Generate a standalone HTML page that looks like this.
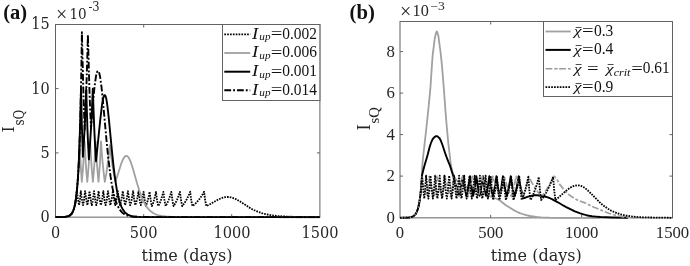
<!DOCTYPE html>
<html lang="en"><head><meta charset="utf-8"><title>Figure</title>
<style>
html,body{margin:0;padding:0;background:#fff}
svg{display:block}
text{font-family:"DejaVu Serif Condensed","DejaVu Serif","Liberation Serif",serif}
.cm{font-family:"Liberation Serif",serif}
.it{font-style:italic}
.bd{font-weight:bold;font-family:"Liberation Serif",serif}
</style></head><body>
<svg width="690" height="266" viewBox="0 0 690 266">
<rect width="690" height="266" fill="#fff"/>

<g id="panelA">
<rect x="55.5" y="24.5" width="264.4" height="192.65" fill="none" stroke="#626262" stroke-width="1"/><path d="M143.7,217.15v-3M143.7,24.5v3M231.7,217.15v-3M231.7,24.5v3M55.5,152.9h3M319.9,152.9h-3M55.5,88.6h3M319.9,88.6h-3" stroke="#626262" stroke-width="1" fill="none"/>
<clipPath id="ca"><rect x="54.5" y="23.5" width="266.4" height="194.85"/></clipPath>
<g clip-path="url(#ca)" fill="none" stroke-linejoin="round">
<path d="M55.5,217.1 62.9,217 65,216.9 66.7,216.6 68.1,216.3 69.4,215.7 70.4,215 71.4,214 72.3,212.6 73.2,210.9 73.9,208.8 74.6,206.2 75.3,203.1 75.8,199.5 76.9,191.1 77.9,198.9 78.5,202.2 79.1,205.2 80,198.9 80.8,191.1 81.8,198.9 82.4,202.2 83.1,205.2 84.2,198.9 85.1,191.1 86.2,198.9 86.7,202.2 87.4,205.2 88.5,198.9 89.5,191.1 90.6,198.9 91.1,202.2 91.8,205.2 92.5,202.2 93,198.9 94,191.1 95.1,198.9 95.6,202.2 96.3,205.2 97,202.2 97.5,198.9 98.6,191.1 99.6,198.9 100.2,202.2 100.9,205.2 101.6,202.2 102.2,198.9 103.3,191.1 104.3,198.9 104.9,202.2 105.6,205.2 106.3,202.2 106.9,198.9 108,191.1 109.1,198.9 109.7,202.2 110.3,205.2 111.1,202.2 111.7,198.9 112.9,191.1 113.9,198.9 114.5,202.2 115.2,205.2 115.9,202.2 116.6,198.9 117.8,191.1 118.9,198.9 119.4,202.2 120.1,205.2 120.9,202.2 121.6,198.9 122.8,191.1 123.9,198.9 124.5,202.2 125.1,205.2 125.9,202.2 126.7,198.9 127.9,191.1 129,198.9 129.6,202.2 130.2,205.2 131.1,202.2 131.8,198.9 133.1,191.1 134.1,198.9 134.7,202.2 135.3,205.2 136.3,202.2 137.1,198.9 137.9,195 138.5,191.1 139.6,198.9 140.1,202.2 140.8,205.2 141.6,202.3 142.3,199.2 143.6,191.8 144.7,199.8 145.3,203.1 145.9,206.1 147,203.1 147.9,199.8 148.9,195.9 149.6,191.8 150.7,199.8 151.2,203.1 151.9,206.1 153.1,203.1 154.1,199.8 155.1,195.9 156,191.8 157,199.8 157.6,203.1 158.3,206.1 159.8,203.1 161,199.8 162.3,195.9 163.4,191.8 164.4,199.8 165,203.1 165.7,206.1 167.3,203.1 168.7,199.8 170.1,195.9 171.3,191.8 172.4,199.8 172.9,203.1 173.6,206.1 175.4,203.1 177,199.8 178.6,195.9 179.9,191.8 181,199.8 181.6,203.1 182.2,206.1 184.5,203.1 186.5,199.8 188.5,195.9 190.2,191.8 191.2,199.8 191.8,203.1 192.5,206.1 194.4,204.5 195.9,203.1 198.8,199.8 200.2,198 201.7,195.9 204.1,191.8 205.1,199.8 205.7,203.1 206.4,206.1 209.3,204.6 216.8,200.3 220.7,198.5 222.9,197.7 225.1,197.2 227.2,197 229.1,197 230.7,197.3 232.5,197.8 234.3,198.4 236.3,199.4 239.7,201.3 249.1,207.4 252,209.1 254.9,210.5 257.7,211.7 260.5,212.7 263.4,213.6 266.5,214.4 270.4,215.1 274.6,215.7 279.3,216.2 284.8,216.5 298.3,217 319.9,217.1" stroke="#000" stroke-width="1.8" stroke-dasharray="1.65 1.1"/>
<path d="M55.5,217.1 61.2,217.1 64.5,216.9 67,216.6 68.8,216 69.6,215.6 70.4,215 71.1,214.4 71.7,213.5 72.9,211.5 73.9,209 74.9,205 75.8,199.9 76.6,193.8 77.3,186.2 78,177.1 78.6,166.6 79.7,140.1 80.6,163.3 81.2,172.8 81.8,181.8 82.6,173 83.3,163.7 84.6,141.4 85.8,163.7 86.5,173 87.3,181.8 88.1,173 88.8,163.7 90.1,141.4 91.4,163.7 92.1,173 92.9,181.8 93.7,173 94.4,163.7 95.6,141.4 96.9,163.7 97.7,173 98.5,181.8 99.2,173 99.9,163.7 101,141.4 101.8,152.5 102.7,163.7 103.7,173 104.8,181.8 106.3,173.7 107.5,165.2 108.8,155.1 109.8,145.2 111,155.1 112.4,165.2 113.8,173.7 115.5,181.8 120.5,165.9 121.6,162.6 122.8,159.8 124,157.7 124.6,156.9 125.1,156.3 125.7,156 126.3,155.9 127.2,156.1 128.1,156.9 129,158.2 129.8,159.9 131,162.8 132.8,168.2 137.1,183.6 139.2,190.2 141.5,196.8 142.7,199.5 144.2,202.6 145.6,205.2 147.1,207.4 148.5,209.2 150,210.7 151.8,212.1 153.5,213.3 155.6,214.3 157.6,215 159.4,215.5 161.4,215.9 165.8,216.5 171.4,216.9 179,217.1 199.1,217.1 319.9,217.1" stroke="#a0a0a0" stroke-width="1.8"/>
<path d="M55.5,217.1 61.9,217.1 65.4,216.8 67.9,216.3 68.9,215.9 69.8,215.4 70.7,214.7 71.5,213.9 72.2,212.9 72.9,211.5 74,208.4 75.1,204.2 76.1,197.9 77,189.3 77.9,178.8 78.6,166.8 79.2,152.8 79.8,134.7 80.4,114.3 81,88.7 81.9,126.3 82.9,156.8 83.9,141.9 84.7,126.3 85.5,107.4 86.2,88.7 87.4,128.1 88.1,144.2 88.9,159.4 90,144.2 91,128.1 92,108.4 92.8,88.7 93.5,109.2 94.3,129.5 95.1,145.9 96,161.3 100.2,120.4 101.8,106.6 102.7,100.5 103.4,97.6 103.7,96.6 104,95.8 104.3,95.3 104.6,95.1 105,95.3 105.3,95.7 105.6,96.4 106.3,98.8 106.9,102.4 107.5,106.9 108.8,118.3 112,151.6 113.6,166.8 115.2,179.5 116.2,185.9 117.1,191.3 118.1,195.9 119.4,200.9 120.3,203.9 121.6,207.1 122.9,209.6 124.5,211.8 126.1,213.4 127.7,214.5 129,215.2 130.3,215.7 131.9,216.1 133.8,216.5 138,216.9 144.4,217.1 319.9,217.2" stroke="#000" stroke-width="1.9"/>
<path d="M55.5,217.1 62.3,217.1 66,216.8 67.4,216.5 68.6,216.1 69.6,215.6 70.5,214.9 71.5,213.9 72.3,212.7 73,211.3 73.7,209.6 74.3,207.6 74.9,205.2 75.9,199.1 77,190 77.9,178.3 78.8,162.9 79.5,145.3 80.2,124.4 80.8,97.4 81.4,66.4 81.9,32.2 83.2,86 83.9,108.5 84.7,129.8 85.6,108.9 86.4,87 87.2,60.7 87.9,34.8 89.3,86.1 90.1,107.8 91,128.5 92,114.4 93,102.3 94.3,88.8 95.3,80.9 96.2,75.2 96.9,72.6 97.2,71.8 97.5,71.2 97.9,70.9 98.2,70.9 98.5,71.3 98.9,71.9 99.5,74.1 100.2,77.4 100.8,81.8 101.5,87 102.8,99.6 106.4,139.1 108,155.5 109.7,169.5 110.6,176.7 111.6,183 112.6,188.4 113.9,194.5 115.2,199.4 116.5,203.2 117.9,206.3 119.5,209.2 121.1,211.4 122.1,212.4 123.1,213.2 124.4,214.1 126,215 127.7,215.6 129.6,216.1 131.9,216.5 134.6,216.7 141.4,217 159.4,217.1 319.9,217.2" stroke="#000" stroke-width="1.9" stroke-dasharray="6.8 2 1.9 2"/>
</g>
<text x="31.3" y="29.3" font-size="16.3" textLength="18.4" lengthAdjust="spacingAndGlyphs" fill="#262626" >15</text>
<text x="31.3" y="93.5" font-size="16.3" textLength="18.4" lengthAdjust="spacingAndGlyphs" fill="#262626" >10</text>
<text x="40.5" y="157.8" font-size="16.3" textLength="9.2" lengthAdjust="spacingAndGlyphs" fill="#262626" >5</text>
<text x="40.5" y="222.0" font-size="16.3" textLength="9.2" lengthAdjust="spacingAndGlyphs" fill="#262626" >0</text>
<text x="50.9" y="237.5" font-size="16.3" textLength="9.2" lengthAdjust="spacingAndGlyphs" fill="#262626" >0</text>
<text x="129.8" y="237.5" font-size="16.3" textLength="27.8" lengthAdjust="spacingAndGlyphs" fill="#262626" >500</text>
<text x="213.4" y="237.5" font-size="16.3" textLength="37.0" lengthAdjust="spacingAndGlyphs" fill="#262626" >1000</text>
<text x="301.5" y="237.5" font-size="16.3" textLength="37.0" lengthAdjust="spacingAndGlyphs" fill="#262626" >1500</text>
<text x="56.0" y="21.1" font-size="20" fill="#262626" class="cm">×</text>
<text x="69.5" y="18.9" font-size="15.5" textLength="17.2" lengthAdjust="spacingAndGlyphs" fill="#262626" >10</text>
<text x="88.4" y="11.0" font-size="12.4" textLength="11.2" lengthAdjust="spacingAndGlyphs" fill="#262626" >-3</text>
<text x="141.6" y="260.7" font-size="16.8" textLength="91" lengthAdjust="spacingAndGlyphs" fill="#262626" >time (days)</text>
<g transform="translate(13.9,132.2) rotate(-90)"><text x="0" y="0" font-size="16.8" fill="#262626">I</text><text x="6.6" y="10.2" font-size="14" fill="#262626" textLength="15.8" lengthAdjust="spacingAndGlyphs">sQ</text></g>
<text x="3.2" y="19" font-size="20.3" textLength="23.9" lengthAdjust="spacingAndGlyphs" fill="#111" class="bd">(a)</text>
<rect x="222.5" y="24.5" width="97.4" height="76" fill="#fff" stroke="#626262" stroke-width="1"/>
<path d="M224.3,34.4H250.2" stroke="#000" stroke-width="1.8" stroke-dasharray="1.7 1.15" fill="none"/>
<text x="252.0" y="38.6" font-size="16" fill="#111" class="cm it" textLength="6.2" lengthAdjust="spacingAndGlyphs">I</text>
<text x="259.3" y="40.3" font-size="11" fill="#111" class="cm it" textLength="11.2" lengthAdjust="spacingAndGlyphs">up</text>
<text x="270.8" y="39.3" font-size="16.5" fill="#111" class="cm" textLength="11.6" lengthAdjust="spacingAndGlyphs">=</text>
<text x="282.2" y="38.6" font-size="15.7" fill="#111" class="cm" textLength="34.7" lengthAdjust="spacingAndGlyphs">0.002</text>
<path d="M224.3,53.0H250.2" stroke="#a0a0a0" stroke-width="1.8" fill="none"/>
<text x="252.0" y="57.2" font-size="16" fill="#111" class="cm it" textLength="6.2" lengthAdjust="spacingAndGlyphs">I</text>
<text x="259.3" y="58.9" font-size="11" fill="#111" class="cm it" textLength="11.2" lengthAdjust="spacingAndGlyphs">up</text>
<text x="270.8" y="57.9" font-size="16.5" fill="#111" class="cm" textLength="11.6" lengthAdjust="spacingAndGlyphs">=</text>
<text x="282.2" y="57.2" font-size="15.7" fill="#111" class="cm" textLength="34.7" lengthAdjust="spacingAndGlyphs">0.006</text>
<path d="M224.3,71.7H250.2" stroke="#000" stroke-width="2.0" fill="none"/>
<text x="252.0" y="75.9" font-size="16" fill="#111" class="cm it" textLength="6.2" lengthAdjust="spacingAndGlyphs">I</text>
<text x="259.3" y="77.6" font-size="11" fill="#111" class="cm it" textLength="11.2" lengthAdjust="spacingAndGlyphs">up</text>
<text x="270.8" y="76.6" font-size="16.5" fill="#111" class="cm" textLength="11.6" lengthAdjust="spacingAndGlyphs">=</text>
<text x="282.2" y="75.9" font-size="15.7" fill="#111" class="cm" textLength="34.7" lengthAdjust="spacingAndGlyphs">0.001</text>
<path d="M224.3,90.3H250.2" stroke="#000" stroke-width="1.9" stroke-dasharray="6.8 2 1.9 2" fill="none"/>
<text x="252.0" y="94.5" font-size="16" fill="#111" class="cm it" textLength="6.2" lengthAdjust="spacingAndGlyphs">I</text>
<text x="259.3" y="96.2" font-size="11" fill="#111" class="cm it" textLength="11.2" lengthAdjust="spacingAndGlyphs">up</text>
<text x="270.8" y="95.2" font-size="16.5" fill="#111" class="cm" textLength="11.6" lengthAdjust="spacingAndGlyphs">=</text>
<text x="282.2" y="94.5" font-size="15.7" fill="#111" class="cm" textLength="34.7" lengthAdjust="spacingAndGlyphs">0.014</text>
</g>
<g id="panelB">
<rect x="400.0" y="21.5" width="272.5" height="196.35" fill="none" stroke="#626262" stroke-width="1"/><path d="M490.7,217.85v-3M490.7,21.5v3M581.7,217.85v-3M581.7,21.5v3M400.0,176.1h3M672.5,176.1h-3M400.0,134.6h3M672.5,134.6h-3M400.0,93.1h3M672.5,93.1h-3M400.0,51.6h3M672.5,51.6h-3" stroke="#626262" stroke-width="1" fill="none"/>
<clipPath id="cb"><rect x="399.0" y="20.5" width="274.5" height="198.54999999999998"/></clipPath>
<g clip-path="url(#cb)" fill="none" stroke-linejoin="round">
<path d="M400,217.8 405.9,217.7 409.3,217.5 410.7,217.3 411.8,216.9 412.9,216.5 413.7,215.9 414.6,215.2 415.4,214.4 416.1,213.3 416.8,212 417.4,210.5 417.9,208.7 419,204.4 419.6,201.1 420.1,197 421.2,187.2 422,176.3 421.8,176.3 422.2,167.1 422.9,159 426.7,125 428.9,103.9 429.8,94.7 430.5,86.6 432.1,62.6 432.7,54.8 434.7,39.1 435.2,36.2 436.1,32.8 436.5,31.7 436.7,31.5 437,31.6 437.4,32.4 438.1,34.8 438.5,36.8 440.5,52 441.2,57.9 442.1,67.3 443.2,80.6 444.3,94.7 445.9,116.4 446.8,127 448.3,143.1 450.6,162.7 451.5,168.3 452.1,170.8 453,173.6 453.9,175.8 454.8,177.6 455.7,179.1 456.8,180.5 458.2,181.8 459.7,183.1 461.9,184.6 464,185.7 472.7,189.5 478.7,192 483.4,193.8 494.7,198 497.2,199 498.5,199.7 499.9,200.5 505.9,205.3 509.5,207.6 512.8,209.6 516.8,211.7 519.9,213.1 522.4,214 526.2,215.2 530,216 536.4,216.9 541.1,217.3 549.6,217.7 554.7,217.8 600,217.8" stroke="#a0a0a0" stroke-width="1.8"/>
<path d="M400,217.8 404.9,217.8 407.9,217.6 410.1,217.4 411.9,216.9 413.5,216.1 414.8,215.1 415.9,213.6 416.8,211.8 417.6,209.7 418.4,207.1 419,204 419.6,200.6 420.4,195.2 421.1,188 422,176.3 421.8,176.3 423.3,170.1 424.8,164.5 427.6,155 429.7,146.7 431.2,142.3 432.2,140.1 433.1,138.6 434.2,137.3 435,136.7 435.7,136.2 436.3,136.1 437.1,136.2 437.8,136.6 438.9,137.6 439.7,138.5 440.6,140.2 442.3,144.5 445,152.7 446.3,156.4 448.2,161.4 449.9,165.4 450.6,167.5 453.3,176.2 455.9,185.4 457.6,190.6 459.3,195.4 460.4,191 461.2,186.6 462.9,176.3 464.5,186.8 465.4,191.4 466.4,195.9 467.5,191.4 468.4,186.8 470,176.3 471.5,186.8 472.3,191.4 473.2,195.9 474.1,191.4 474.9,186.8 476.4,176.3 477.9,186.8 478.7,191.4 479.6,195.9 480.6,191.4 481.4,186.8 482.9,176.3 484.4,186.8 485.2,191.4 486.1,195.9 487,191.4 487.8,186.8 489.3,176.3 490.9,186.8 491.8,191.4 492.9,195.9 493.9,191.4 494.8,186.8 496.4,176.3 497.9,186.8 498.7,191.4 499.6,195.9 500.6,191.4 501.4,186.8 502.9,176.3 503.7,181.5 504.7,186.8 505.7,191.4 506.8,195.9 507.9,191.4 508.9,186.8 509.9,181.5 510.7,176.3 511.5,181.5 512.5,186.8 513.5,191.4 514.6,195.9 515.8,191.4 516.8,186.8 517.8,181.5 518.6,176.3 519.6,182.4 520.9,188.5 522.1,193.5 523.6,198.3 526,197.4 528,196.7 532.2,195.7 534.3,195.3 535.9,195.2 537.5,195.3 543.2,196.2 545.6,196.7 547.7,197.3 549.5,198 552.4,199.4 557.9,202.3 563.6,205.7 566.2,207.1 570.4,209.2 574.9,211.3 579.6,213.1 583.5,214.4 586.4,215.2 589,215.8 591.9,216.2 595.8,216.6 600.5,217 612.6,217.5 628,217.8" stroke="#000" stroke-width="1.9"/>
<path d="M400,217.8 407.6,217.7 409.8,217.4 411.5,217 413,216.4 414.3,215.5 415.4,214.4 416.3,212.9 417.3,210.7 418.2,207.9 418.9,204.8 419.6,200.6 420.3,195.8 420.9,190.4 422,176.3 423,181.7 424.3,187.2 425.6,191.9 427.1,196.5 428.2,187.2 429.2,176.3 430.3,181.7 431.6,187.2 432.9,191.9 434.5,196.5 435.8,187.2 436.9,176.3 438,181.7 439.4,187.2 440.7,191.9 442.3,196.5 443.1,191.9 443.8,187.2 445,176.3 446.2,181.7 447.6,187.2 448.9,191.9 450.5,196.5 451.4,191.9 452.2,187.2 453.6,176.3 454.8,181.7 456.2,187.2 457.6,191.9 459.3,196.5 460.3,191.9 461.1,187.2 462.6,176.3 463.9,181.7 465.3,187.2 466.8,191.9 468.5,196.5 469.6,191.9 470.5,187.2 471.4,181.7 472.2,176.3 473.5,181.7 475,187.2 476.5,191.9 478.3,196.5 479.5,191.9 480.5,187.2 481.4,181.7 482.3,176.3 483.6,181.7 485.2,187.2 486.8,191.9 488.7,196.5 489.9,191.9 491,187.2 492,181.7 492.9,176.3 494.3,181.7 496,187.2 497.7,191.9 499.7,196.5 501,191.9 502.1,187.2 503.2,181.7 504.2,176.3 505.6,181.7 507.4,187.2 509.2,191.9 511.3,196.5 512.7,191.9 513.9,187.2 515.1,181.7 516.1,176.3 517.6,181.7 519.5,187.2 521.3,191.9 523.5,196.5 525,191.9 526.3,187.2 527.5,181.7 528.6,176.3 531.3,181.7 534.6,187.2 537.8,191.9 539.4,194 541.6,196.5 543.6,194 545.1,191.9 548,187.2 551,181.7 553.5,176.3 554.2,176.5 555.1,177 555.9,177.9 556.8,179.2 559,183.1 559.9,184.6 563.3,188.9 565.9,191.8 568.6,194.3 571.2,196.3 574.3,198.4 577.2,199.9 579.2,200.7 585.2,202.9 586.5,203.5 589.7,205.2 591.9,206.3 605,211.8 609.4,213.5 613.8,214.8 619.4,216.2 623.4,216.8 631.1,217.4 642,217.8" stroke="#a0a0a0" stroke-width="1.7" stroke-dasharray="6.8 2 3 1.8"/>
<path d="M400,217.8 407.6,217.7 409.8,217.4 411.5,217 413,216.4 414.3,215.5 415.4,214.3 416.4,212.7 417.3,210.6 418.2,207.7 419,204.3 419.7,200.2 420.4,195.2 421,189.4 422,175.7 423.1,188.4 423.7,193.6 424.3,198.6 425.3,188.4 426.1,175.7 427.2,188.4 427.7,193.6 428.4,198.6 429.6,188.4 430.5,175.7 431.6,188.4 432.2,193.6 432.9,198.6 433.5,193.6 434.1,188.4 435.1,175.7 436.1,188.4 436.7,193.6 437.4,198.6 438.1,193.6 438.7,188.4 439.7,175.7 440.8,188.4 441.4,193.6 442.1,198.6 442.7,193.6 443.3,188.4 444.4,175.7 445.5,188.4 446.1,193.6 446.8,198.6 447.5,193.6 448.1,188.4 449.2,175.7 450.3,188.4 450.9,193.6 451.6,198.6 452.3,193.6 453,188.4 454.1,175.7 455.2,188.4 455.8,193.6 456.5,198.6 457.3,193.6 457.9,188.4 459.1,175.7 460.2,188.4 460.8,193.6 461.5,198.6 462.3,193.6 463,188.4 464.2,175.7 465.3,188.4 465.9,193.6 466.6,198.6 467.4,193.6 468.1,188.4 469.4,175.7 470.5,188.4 471.1,193.6 471.8,198.6 472.6,193.6 473.3,188.4 474.7,175.7 475.7,188.4 476.3,193.6 477,198.6 477.9,193.6 478.6,188.4 479.9,175.7 481,188.4 481.6,193.6 482.3,198.6 483.2,193.6 484.1,188.4 484.9,182 485.6,175.7 486.6,188.4 487.2,193.6 487.9,198.6 488.8,193.8 489.5,188.9 490.8,177 491.9,189.9 492.5,195.1 493.2,200 494.3,195.1 495.3,189.9 496.2,183.5 497,177 498.1,189.9 498.7,195.1 499.4,200 500.6,195.1 501.6,189.9 502.7,183.5 503.6,177 504.6,189.9 505.2,195.1 505.9,200 507.4,195.1 508.8,189.9 510.1,183.5 511.2,177 512.3,189.9 512.9,195.1 513.5,200 515.2,195.1 516.7,189.9 518.1,183.5 519.4,177 520.4,189.9 521,195.1 521.7,200 523.6,195.1 525.3,189.9 526.9,183.5 528.3,177 529.3,189.9 529.9,195.1 530.6,200 532,197.4 533,195.1 535,189.9 537.1,183.5 538.8,177 539.9,189.9 540.5,195.1 541.2,200 543.2,197.4 544.7,195.1 546.2,192.6 547.6,189.9 549.1,186.8 550.6,183.5 553.1,177 554.2,189.9 554.8,195.1 555.5,200 558.5,197.5 566.2,190.7 568.4,189 570.2,187.7 572.6,186.4 574.8,185.7 576.9,185.3 578.9,185.4 580.6,185.7 582.5,186.5 584.3,187.6 586.3,189.1 589.8,192.3 596.5,199.1 599.5,202.1 602.5,204.8 605.6,207.1 608.4,209 611.2,210.7 614.3,212.1 617.4,213.3 621.5,214.6 625.8,215.5 630.7,216.3 636.3,216.9 642.7,217.3 650.2,217.5 672.5,217.8" stroke="#000" stroke-width="1.8" stroke-dasharray="1.65 1.1"/>
</g>
<text x="386.6" y="222.7" font-size="16.4" textLength="8.4" lengthAdjust="spacingAndGlyphs" fill="#262626" class="cm">0</text>
<text x="386.6" y="181.2" font-size="16.4" textLength="8.4" lengthAdjust="spacingAndGlyphs" fill="#262626" class="cm">2</text>
<text x="386.6" y="139.7" font-size="16.4" textLength="8.4" lengthAdjust="spacingAndGlyphs" fill="#262626" class="cm">4</text>
<text x="386.6" y="98.2" font-size="16.4" textLength="8.4" lengthAdjust="spacingAndGlyphs" fill="#262626" class="cm">6</text>
<text x="386.6" y="56.7" font-size="16.4" textLength="8.4" lengthAdjust="spacingAndGlyphs" fill="#262626" class="cm">8</text>
<text x="395.8" y="237.9" font-size="16.6" textLength="8.3" lengthAdjust="spacingAndGlyphs" fill="#262626" class="cm">0</text>
<text x="478.3" y="237.9" font-size="16.6" textLength="25.0" lengthAdjust="spacingAndGlyphs" fill="#262626" class="cm">500</text>
<text x="565.0" y="237.9" font-size="16.6" textLength="33.4" lengthAdjust="spacingAndGlyphs" fill="#262626" class="cm">1000</text>
<text x="655.8" y="237.9" font-size="16.6" textLength="33.4" lengthAdjust="spacingAndGlyphs" fill="#262626" class="cm">1500</text>
<text x="400.0" y="17.95" font-size="20" fill="#262626" class="cm">×</text>
<text x="412.6" y="15.6" font-size="16" textLength="16.2" lengthAdjust="spacingAndGlyphs" fill="#262626" class="cm">10</text>
<text x="430.3" y="9.8" font-size="11.5" textLength="14.6" lengthAdjust="spacingAndGlyphs" fill="#262626" class="cm">−3</text>
<text x="490.8" y="260.8" font-size="16.8" textLength="91" lengthAdjust="spacingAndGlyphs" fill="#262626" >time (days)</text>
<g transform="translate(369.9,130.6) rotate(-90)"><text x="0" y="0" font-size="19" fill="#262626" class="cm">I</text><text x="7.0" y="9.1" font-size="13.6" fill="#262626" class="cm" textLength="16.4" lengthAdjust="spacingAndGlyphs">sQ</text></g>
<text x="349.6" y="18.6" font-size="20.3" textLength="25.3" lengthAdjust="spacingAndGlyphs" fill="#111" class="bd">(b)</text>
<rect x="543.5" y="21.5" width="129" height="75" fill="#fff" stroke="#626262" stroke-width="1"/>
<path d="M545.5,31.5H570.7" stroke="#a0a0a0" stroke-width="1.8" fill="none"/>
<text x="574.1" y="35.3" font-size="12.6" fill="#111" class="cm it" textLength="7.5" lengthAdjust="spacingAndGlyphs">χ</text><text x="575.8" y="40.0" font-size="16" fill="#111" class="cm" textLength="5.7" lengthAdjust="spacingAndGlyphs">¯</text>
<text x="582.1" y="36.4" font-size="16.5" fill="#111" class="cm" textLength="11.6" lengthAdjust="spacingAndGlyphs">=</text>
<text x="593.9" y="35.9" font-size="15.7" fill="#111" class="cm" textLength="19.4" lengthAdjust="spacingAndGlyphs">0.3</text>
<path d="M545.5,49.9H570.7" stroke="#000" stroke-width="2.0" fill="none"/>
<text x="574.1" y="53.7" font-size="12.6" fill="#111" class="cm it" textLength="7.5" lengthAdjust="spacingAndGlyphs">χ</text><text x="575.8" y="58.4" font-size="16" fill="#111" class="cm" textLength="5.7" lengthAdjust="spacingAndGlyphs">¯</text>
<text x="582.1" y="54.8" font-size="16.5" fill="#111" class="cm" textLength="11.6" lengthAdjust="spacingAndGlyphs">=</text>
<text x="593.9" y="54.3" font-size="15.7" fill="#111" class="cm" textLength="19.4" lengthAdjust="spacingAndGlyphs">0.4</text>
<path d="M545.5,68.8H570.7" stroke="#9a9a9a" stroke-width="1.6" stroke-dasharray="6.8 2 3.4 1.4" fill="none"/>
<text x="574.1" y="72.6" font-size="12.6" fill="#111" class="cm it" textLength="7.5" lengthAdjust="spacingAndGlyphs">χ</text><text x="575.8" y="77.3" font-size="16" fill="#111" class="cm" textLength="5.7" lengthAdjust="spacingAndGlyphs">¯</text>
<text x="587.1" y="73.7" font-size="16.5" fill="#111" class="cm" textLength="11.6" lengthAdjust="spacingAndGlyphs">=</text>
<text x="606.0" y="72.6" font-size="12.6" fill="#111" class="cm it" textLength="7.5" lengthAdjust="spacingAndGlyphs">χ</text><text x="607.7" y="77.3" font-size="16" fill="#111" class="cm" textLength="5.7" lengthAdjust="spacingAndGlyphs">¯</text>
<text x="613.7" y="75.5" font-size="9.8" fill="#111" class="cm it" textLength="16.8" lengthAdjust="spacingAndGlyphs">crit</text>
<text x="631.3" y="73.7" font-size="16.5" fill="#111" class="cm" textLength="11.6" lengthAdjust="spacingAndGlyphs">=</text>
<text x="642.8" y="73.2" font-size="15.7" fill="#111" class="cm" textLength="26.9" lengthAdjust="spacingAndGlyphs">0.61</text>
<path d="M545.5,87.2H570.7" stroke="#000" stroke-width="1.8" stroke-dasharray="1.7 1.15" fill="none"/>
<text x="574.1" y="91.0" font-size="12.6" fill="#111" class="cm it" textLength="7.5" lengthAdjust="spacingAndGlyphs">χ</text><text x="575.8" y="95.7" font-size="16" fill="#111" class="cm" textLength="5.7" lengthAdjust="spacingAndGlyphs">¯</text>
<text x="582.1" y="92.1" font-size="16.5" fill="#111" class="cm" textLength="11.6" lengthAdjust="spacingAndGlyphs">=</text>
<text x="593.9" y="91.6" font-size="15.7" fill="#111" class="cm" textLength="19.4" lengthAdjust="spacingAndGlyphs">0.9</text>
</g>
</svg>
</body></html>
